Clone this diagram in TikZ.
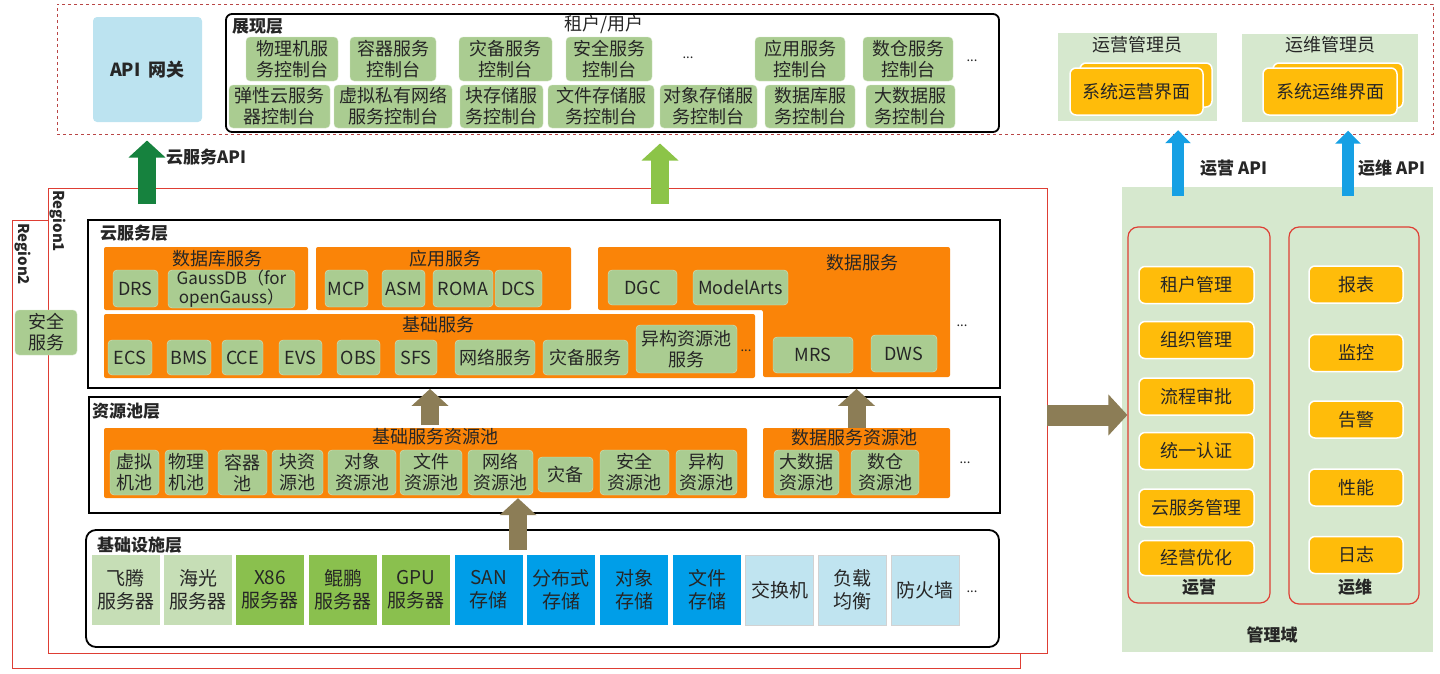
\documentclass[tikz,border=0pt]{standalone}
\usepackage{fontspec}
\setmainfont{Noto Sans CJK SC}
\usetikzlibrary{arrows.meta}
\definecolor{gfill}{RGB}{170,204,145}
\definecolor{gedge}{RGB}{210,228,196}
\definecolor{svorange}{RGB}{250,132,8}
\definecolor{mgorange}{RGB}{255,188,10}
\definecolor{mgback}{RGB}{214,232,206}
\definecolor{apiblue}{RGB}{188,227,240}
\definecolor{regred}{RGB}{222,62,52}
\definecolor{dashred}{RGB}{185,70,70}
\definecolor{tanarrow}{RGB}{140,125,86}
\definecolor{apigreen}{RGB}{22,130,62}
\definecolor{ltgreen}{RGB}{140,196,72}
\definecolor{opblue}{RGB}{22,160,228}
\definecolor{hwpale}{RGB}{198,222,182}
\definecolor{hwgreen}{RGB}{138,192,78}
\definecolor{stblue}{RGB}{0,158,232}
\definecolor{netblue}{RGB}{192,228,240}
\tikzset{sz/.style 2 args={minimum width=#1pt, minimum height=#2pt}}
\begin{document}
\begin{tikzpicture}[x=1pt, y=-1pt,
    every node/.style={inner sep=0pt, text=black!85},
    gbox/.style={draw=gedge, fill=gfill, rounded corners=4pt, align=center, font=\fontsize{18}{21}\selectfont},
    grp/.style={fill=svorange, rounded corners=2pt},
    layer/.style={draw=black, line width=1.8pt},
    ttl/.style={anchor=west, font=\bfseries\fontsize{17}{20}\selectfont},
    hdr/.style={font=\fontsize{18}{20}\selectfont},
    hw/.style={sz={68}{70}, align=center, font=\fontsize{19}{23}\selectfont},
    mbox/.style={fill=mgorange, draw=white, line width=1.5pt, rounded corners=6pt, font=\fontsize{18}{20}\selectfont},
    more/.style={font=\fontsize{13}{13}\selectfont},
    fat/.style={line width=18pt, -{Triangle[length=17pt,width=36pt]}},
    slim/.style={line width=12pt, opblue, -{Triangle[length=13pt,width=25pt]}}]
    \useasboundingbox (0,0) rectangle (1440,673);

    \node[draw=dashred, dashed, line width=1pt, sz={1376}{130}] (top) at (745,69) {};
    \node[fill=apiblue, rounded corners=4pt, sz={109}{105}, font=\bfseries\fontsize{18}{20}\selectfont] (api) at (147.5,69.5) {API~~网关};
    \node[layer, rounded corners=6pt, sz={773}{118}] (show) at (612.5,73) {};
    \node[ttl] (showt) at (232,26) {展现层};
    \node[hdr] (tenant) at (604,25) {租户/用户};
    \node[gbox, sz={92}{44}] (c11) at (292,59) {物理机服\\务控制台};
    \node[gbox, sz={86}{44}] (c12) at (393,59) {容器服务\\控制台};
    \node[gbox, sz={93}{44}] (c13) at (505.5,59) {灾备服务\\控制台};
    \node[gbox, sz={86}{44}] (c14) at (609,59) {安全服务\\控制台};
    \node[more] (m1) at (688,58) {...};
    \node[gbox, sz={90}{44}] (c15) at (800,59) {应用服务\\控制台};
    \node[gbox, sz={90}{44}] (c16) at (908,59) {数仓服务\\控制台};
    \node[more] (m2) at (972,61) {...};
    \node[gbox, sz={101}{43}] (c21) at (279.5,106.5) {弹性云服务\\器控制台};
    \node[gbox, sz={118}{43}] (c22) at (393,106.5) {虚拟私有网络\\服务控制台};
    \node[gbox, sz={83}{43}] (c23) at (501.5,106.5) {块存储服\\务控制台};
    \node[gbox, sz={106}{43}] (c24) at (601,106.5) {文件存储服\\务控制台};
    \node[gbox, sz={97}{43}] (c25) at (708.5,106.5) {对象存储服\\务控制台};
    \node[gbox, sz={90}{43}] (c26) at (810,106.5) {数据库服\\务控制台};
    \node[gbox, sz={89}{43}] (c27) at (910.5,106.5) {大数据服\\务控制台};

    \node[fill=mgback, sz={159}{88}] (opadmin) at (1137.5,77) {};
    \node[hdr] (opadmint) at (1137,45) {运营管理员};
    \node[mbox, sz={132}{44}] (opuib) at (1146,85) {};
    \node[mbox, sz={133}{47}] (opui) at (1136.5,91.5) {系统运营界面};
    \node[fill=mgback, sz={176}{88}] (omadmin) at (1330,77.5) {};
    \node[hdr] (omadmint) at (1330,45) {运维管理员};
    \node[mbox, sz={130}{45}] (omuib) at (1338,85.5) {};
    \node[mbox, sz={134}{47}] (omui) at (1330,91.5) {系统运维界面};

    \node[draw=regred, line width=1pt, sz={1008}{448}] (region2) at (516,444) {};
    \node[draw=regred, fill=white, line width=1pt, sz={999}{465}] (region1) at (547.5,420.5) {};
    \node[rotate=-90, anchor=west, font=\bfseries\fontsize{15}{15}\selectfont] (r1t) at (58,190) {Region1};
    \node[rotate=-90, anchor=west, font=\bfseries\fontsize{15}{15}\selectfont] (r2t) at (23,223) {Region2};
    \node[gbox, sz={62}{45}] (sec) at (46,332.5) {安全\\服务};

    \node[layer, sz={912}{168}] (cloud) at (544,304) {};
    \node[ttl] (cloudt) at (100,233) {云服务层};
    \node[grp, sz={204}{63}] (dbsvc) at (206,278.5) {};
    \node[hdr] (dbsvct) at (217,259) {数据库服务};
    \node[gbox, sz={45}{37}] (drs) at (135.5,288.5) {DRS};
    \node[gbox, sz={127}{38}, font=\fontsize{17}{19}\selectfont] (gauss) at (231.5,289) {GaussDB（for\\openGauss）};
    \node[grp, sz={255}{63}] (appsvc) at (443.5,278.5) {};
    \node[hdr] (appsvct) at (445,259) {应用服务};
    \node[gbox, sz={43}{37}] (mcp) at (346.5,288.5) {MCP};
    \node[gbox, sz={43}{37}] (asm) at (403.5,288.5) {ASM};
    \node[gbox, sz={60}{37}] (roma) at (463,288.5) {ROMA};
    \node[gbox, sz={47}{37}] (dcs) at (518.5,288.5) {DCS};
    \fill[svorange, rounded corners=2pt] (598,247) -- (950,247) -- (950,377) -- (763,377) -- (763,310) -- (598,310) -- cycle;
    \node[hdr] (datasvct) at (862,263) {数据服务};
    \node[gbox, sz={69}{35}] (dgc) at (642.5,287.5) {DGC};
    \node[gbox, sz={95}{35}] (modelarts) at (740.5,287.5) {ModelArts};
    \node[gbox, sz={80}{36}] (mrs) at (813,355) {MRS};
    \node[gbox, sz={66}{37}] (dws) at (904,353.5) {DWS};
    \node[more] (m3) at (962,326) {...};
    \node[grp, sz={651}{64}] (basesvc) at (429.5,346) {};
    \node[hdr] (basesvct) at (438,325) {基础服务};
    \node[gbox, sz={44}{35}] (ecs) at (130,357.5) {ECS};
    \node[gbox, sz={44}{35}] (bms) at (189,357.5) {BMS};
    \node[gbox, sz={41}{35}] (cce) at (242.5,357.5) {CCE};
    \node[gbox, sz={43}{35}] (evs) at (300.5,357.5) {EVS};
    \node[gbox, sz={43}{35}] (obs) at (358.5,357.5) {OBS};
    \node[gbox, sz={42}{35}] (sfs) at (416,357.5) {SFS};
    \node[gbox, sz={80}{35}] (netsvc) at (495,357.5) {网络服务};
    \node[gbox, sz={85}{35}] (drsvc) at (585.5,357.5) {灾备服务};
    \node[gbox, sz={101}{48}] (hetsvc) at (686.5,349) {异构资源池\\服务};
    \node[more] (m4) at (746,351) {...};

    \node[layer, sz={911}{116}] (pool) at (544.5,455) {};
    \node[ttl] (poolt) at (92,411) {资源池层};
    \node[grp, sz={643}{70}] (basepool) at (425.5,463) {};
    \node[hdr] (basepoolt) at (435,437) {基础服务资源池};
    \node[gbox, sz={49}{45}] (p1) at (134.5,472.5) {虚拟\\机池};
    \node[gbox, sz={43}{45}] (p2) at (186.5,472.5) {物理\\机池};
    \node[gbox, sz={49}{45}] (p3) at (242.5,472.5) {容器\\池};
    \node[gbox, sz={51}{45}] (p4) at (297.5,472.5) {块资\\源池};
    \node[gbox, sz={68}{45}] (p5) at (362,472.5) {对象\\资源池};
    \node[gbox, sz={62}{45}] (p6) at (431,472.5) {文件\\资源池};
    \node[gbox, sz={65}{45}] (p7) at (500.5,472.5) {网络\\资源池};
    \node[gbox, sz={55}{35}] (p8) at (565.5,474.5) {灾备};
    \node[gbox, sz={69}{45}] (p9) at (634.5,472.5) {安全\\资源池};
    \node[gbox, sz={61}{45}] (p10) at (706.5,472.5) {异构\\资源池};
    \node[grp, sz={187}{70}] (datapool) at (856.5,463) {};
    \node[hdr] (datapoolt) at (854,438) {数据服务资源池};
    \node[gbox, sz={65}{45}] (p11) at (806.5,472.5) {大数据\\资源池};
    \node[gbox, sz={68}{45}] (p12) at (885,472.5) {数仓\\资源池};
    \node[more] (m5) at (965,463) {...};

    \node[layer, rounded corners=10pt, sz={913}{117}] (infra) at (542.5,588.5) {};
    \node[ttl] (infrat) at (97,545) {基础设施层};
    \node[hw, fill=hwpale] (h1) at (125.5,590) {飞腾\\服务器};
    \node[hw, fill=hwpale] (h2) at (198,590) {海光\\服务器};
    \node[hw, fill=hwgreen] (h3) at (270,590) {X86\\服务器};
    \node[hw, fill=hwgreen] (h4) at (343,590) {鲲鹏\\服务器};
    \node[hw, fill=hwgreen] (h5) at (416,590) {GPU\\服务器};
    \node[hw, fill=stblue] (h6) at (488.5,590) {SAN\\存储};
    \node[hw, fill=stblue] (h7) at (561,590) {分布式\\存储};
    \node[hw, fill=stblue] (h8) at (634,590) {对象\\存储};
    \node[hw, fill=stblue] (h9) at (707,590) {文件\\存储};
    \node[hw, fill=netblue, draw=gray!35] (h10) at (779.5,590) {交换机};
    \node[hw, fill=netblue, draw=gray!35] (h11) at (852.5,590) {负载\\均衡};
    \node[hw, fill=netblue, draw=gray!35] (h12) at (925,590) {防火墙};
    \node[more] (m6) at (972,592) {...};

    \node[fill=mgback, sz={311}{465}] (mgmt) at (1277.5,419.5) {};
    \node[draw=regred, line width=1.2pt, rounded corners=10pt, sz={142}{376}] (opcol) at (1199,415) {};
    \node[draw=regred, line width=1.2pt, rounded corners=10pt, sz={130}{377}] (omcol) at (1354,415.5) {};
    \node[mbox, sz={115}{37}] (o1) at (1196.5,285) {租户管理};
    \node[mbox, sz={115}{37}] (o2) at (1196.5,340) {组织管理};
    \node[mbox, sz={115}{37}] (o3) at (1196.5,396.5) {流程审批};
    \node[mbox, sz={115}{37}] (o4) at (1196.5,451) {统一认证};
    \node[mbox, sz={115}{38}] (o5) at (1196.5,508) {云服务管理};
    \node[mbox, sz={115}{35}] (o6) at (1196.5,558) {经营优化};
    \node[mbox, sz={94}{37}] (w1) at (1356,284.5) {报表};
    \node[mbox, sz={94}{37}] (w2) at (1356,353) {监控};
    \node[mbox, sz={94}{37}] (w3) at (1356,419.5) {告警};
    \node[mbox, sz={94}{37}] (w4) at (1356,487.5) {性能};
    \node[mbox, sz={94}{37}] (w5) at (1356,555) {日志};
    \node[ttl, anchor=center] (opcolt) at (1199,587) {运营};
    \node[ttl, anchor=center] (omcolt) at (1355,587) {运维};
    \node[ttl, anchor=center] (mgmtt) at (1272,635) {管理域};

    \coordinate (apifoot) at (147,204);
    \coordinate (uifoot) at (660,204);
    \coordinate (opfoot) at (1178,196);
    \coordinate (omfoot) at (1348,196);
    \coordinate (sfsfoot) at (430,425);
    \coordinate (hwfoot) at (518,550);
    \coordinate (rarr) at (1047,415);
    \draw[fat, apigreen, shorten >=6pt] (apifoot) -- (apifoot |- top.south);
    \draw[fat, ltgreen, shorten >=9pt] (uifoot) -- (uifoot |- top.south);
    \node[ttl] (apit) at (166,157) {云服务API};
    \draw[slim, shorten >=9pt] (opfoot) -- (opfoot |- opadmin.south);
    \draw[slim, shorten >=9pt] (omfoot) -- (omfoot |- omadmin.south);
    \node[ttl] (opapit) at (1200,168) {运营 API};
    \node[ttl] (omapit) at (1358,168) {运维 API};
    \draw[fat, tanarrow] (sfsfoot) -- (sfsfoot |- cloud.south);
    \draw[fat, tanarrow] (datapool.north) -- (datapool.north |- cloud.south);
    \draw[fat, tanarrow] (hwfoot) -- (hwfoot |- basepool.south);
    \draw[fat, tanarrow, line width=21pt, -{Triangle[length=19pt,width=40pt]}] (rarr) -- (rarr -| opcol.west);
\end{tikzpicture}
\end{document}
